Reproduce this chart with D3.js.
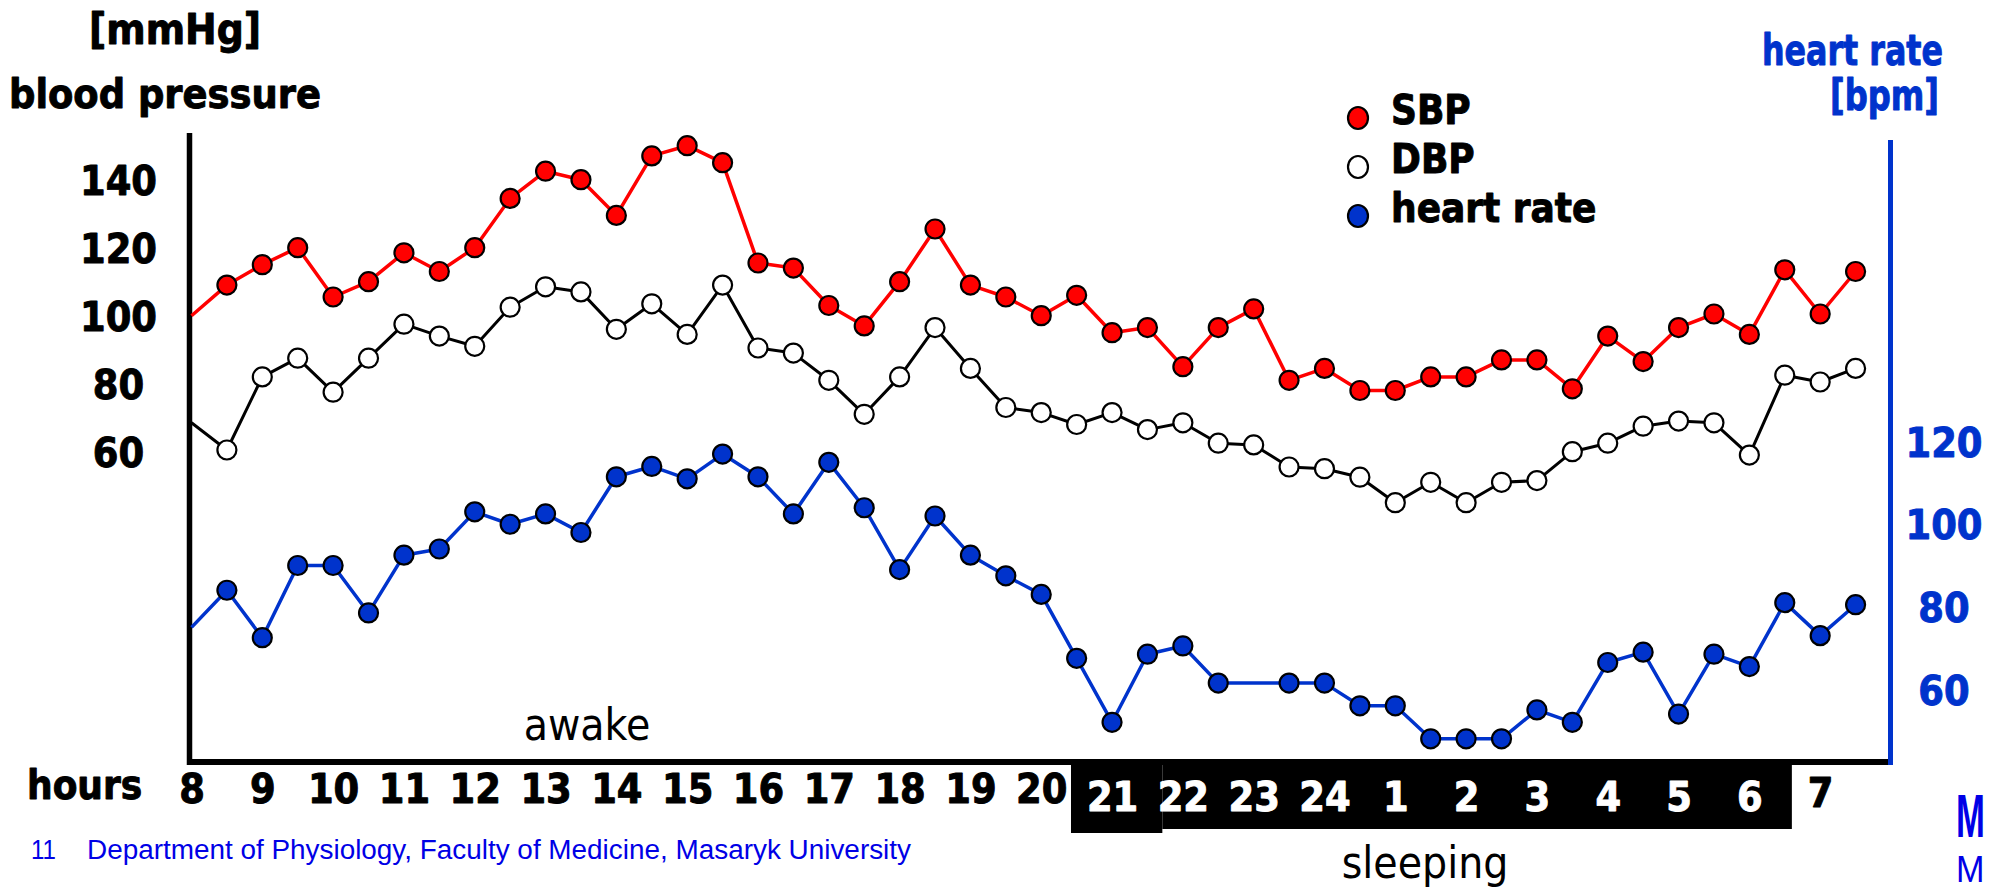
<!DOCTYPE html>
<html>
<head>
<meta charset="utf-8">
<script src="https://cdn.jsdelivr.net/npm/d3@7"></script>
<style>
  body { margin: 0; background: #fff; }
  svg text { font-family: "DejaVu Sans Condensed", "DejaVu Sans", sans-serif; }
  svg text.heavy { stroke-width: 0.9px; stroke-linejoin: round; }
</style>
</head>
<body>
<svg id="chart"></svg>
<script>
var width = 1999;
var height = 892;

// hours since 8:00, one reading every half hour (index 0 = 8:00, line start only)
var times = d3.range(0, 24, 0.5);

var hourLabels = ["8", "9", "10", "11", "12", "13", "14", "15", "16", "17", "18", "19",
                  "20", "21", "22", "23", "24", "1", "2", "3", "4", "5", "6", "7"];
var sleepHours = ["21", "22", "23", "24", "1", "2", "3", "4", "5", "6"];

var bpTicks = [60, 80, 100, 120, 140];
var hrTicks = [60, 80, 100, 120];

var sbp = [100, 109, 115, 120, 105.5, 110, 118.5, 113, 120, 134.5, 142.5, 140, 129.5,
           147, 150, 145, 115.5, 114, 103, 97, 110, 125.5, 109, 105.5, 100, 106,
           95, 96.5, 85, 96.5, 102, 81, 84.5, 78, 78, 82, 82, 87, 87, 78.5, 94,
           86.5, 96.5, 100.5, 94.5, 113.5, 100.5, 113];

var dbp = [68.5, 60.5, 82, 87.5, 77.5, 87.5, 97.5, 94, 91, 102.5, 108.5, 107, 96,
           103.5, 94.5, 109, 90.5, 89, 81, 71, 82, 96.5, 84.5, 73, 71.5, 68, 71.5,
           66.5, 68.5, 62.5, 62, 55.5, 55, 52.5, 45, 51, 45, 51, 51.5, 60, 62.5,
           67.5, 69, 68.5, 59, 82.5, 80.5, 84.5];

var heartRate = [75, 84, 72.5, 90, 90, 78.5, 92.5, 94, 103, 100, 102.5, 98, 111.5,
                 114, 111, 117, 111.5, 102.5, 115, 104, 89, 102, 92.5, 87.5, 83,
                 67.5, 52, 68.5, 70.5, 61.5, null, 61.5, 61.5, 56, 56, 48, 48, 48,
                 55, 52, 66.5, 69, 54, 68.5, 65.5, 81, 73, 80.5];

var legendItems = ["SBP", "DBP", "heart rate"];

var red = "#ff0000";
var blue = "#0033cc";
var footBlue = "#0000e6";

var xScale = d3.scaleLinear()
               .domain([0, 24])
               .range([191.5, 1891]);

var yBP = d3.scaleLinear()
            .domain([60, 140])
            .range([451.7, 179.7]);

var yHR = d3.scaleLinear()
            .domain([60, 120])
            .range([689.3, 441.7]);

var svg = d3.select("#chart")
            .attr("width", width)
            .attr("height", height);

// sleeping band behind the hour labels
svg.append("rect")
   .attr("x", xScale(12.42)).attr("y", 759)
   .attr("width", xScale(13.71) - xScale(12.42)).attr("height", 74)
   .attr("fill", "#000");
svg.append("rect")
   .attr("x", xScale(13.71)).attr("y", 759)
   .attr("width", xScale(22.6) - xScale(13.71)).attr("height", 70)
   .attr("fill", "#000");

// frame: left axis and bottom axis in black, right axis in blue
svg.append("line")
   .attr("x1", 189.5).attr("x2", 189.5)
   .attr("y1", 133).attr("y2", 765)
   .attr("stroke", "#000").attr("stroke-width", 5.5);
svg.append("line")
   .attr("x1", 187).attr("x2", 1890)
   .attr("y1", 762).attr("y2", 762)
   .attr("stroke", "#000").attr("stroke-width", 6);
svg.append("line")
   .attr("x1", 1890.5).attr("x2", 1890.5)
   .attr("y1", 140).attr("y2", 765)
   .attr("stroke", blue).attr("stroke-width", 5);

function boldText(sel, color) {
    sel.classed("heavy", true)
       .style("font-family", "'DejaVu Sans Condensed', 'DejaVu Sans', sans-serif")
       .style("font-weight", "bold")
       .attr("fill", color)
       .attr("stroke", color);
}

// left axis labels
var leftAxis = d3.axisLeft(yBP)
                 .tickValues(bpTicks)
                 .tickSize(0)
                 .tickPadding(0);
var gLeft = svg.append("g")
               .attr("transform", "translate(118.5,0)")
               .call(leftAxis);
gLeft.select(".domain").remove();
gLeft.selectAll("text")
     .attr("text-anchor", "middle")
     .attr("dy", "0.36em")
     .style("font-size", "41px")
     .call(boldText, "#000");

// right axis labels
var rightAxis = d3.axisRight(yHR)
                  .tickValues(hrTicks)
                  .tickSize(0)
                  .tickPadding(0);
var gRight = svg.append("g")
                .attr("transform", "translate(1944,0)")
                .call(rightAxis);
gRight.select(".domain").remove();
gRight.selectAll("text")
      .attr("text-anchor", "middle")
      .attr("dy", "0.36em")
      .style("font-size", "41px")
      .call(boldText, blue);

// hour labels
var bottomAxis = d3.axisBottom(xScale)
                   .tickValues(d3.range(0, 24))
                   .tickFormat(i => hourLabels[i])
                   .tickSize(0)
                   .tickPadding(0);
var gBottom = svg.append("g")
                 .attr("transform", "translate(0,765)")
                 .call(bottomAxis);
gBottom.select(".domain").remove();
gBottom.selectAll("text")
       .attr("dy", null)
       .attr("y", function (d) {
           var lab = hourLabels[d];
           if (sleepHours.indexOf(lab) >= 0) return 46;
           if (lab === "7") return 42;
           return 38;
       })
       .style("font-size", "41px")
       .each(function (d) {
           d3.select(this).call(boldText, sleepHours.indexOf(hourLabels[d]) >= 0 ? "#fff" : "#000");
       });

// series
var series = [
    { name: "SBP", values: sbp, scale: yBP, line: red, fill: red, width: 3.5 },
    { name: "DBP", values: dbp, scale: yBP, line: "#000", fill: "#fff", width: 3 },
    { name: "heart rate", values: heartRate, scale: yHR, line: blue, fill: blue, width: 3.5 }
];

series.forEach(function (s) {
    var pts = times.map((t, i) => ({ t: t, v: s.values[i], i: i }))
                   .filter(p => p.v !== null);

    var line = d3.line()
                 .x(p => xScale(p.t))
                 .y(p => s.scale(p.v));

    svg.append("path")
       .datum(pts)
       .attr("d", line)
       .attr("fill", "none")
       .attr("stroke", s.line)
       .attr("stroke-width", s.width)
       .attr("stroke-linejoin", "round");

    svg.append("g")
       .selectAll("circle")
       .data(pts.filter(p => p.i > 0))
       .enter()
       .append("circle")
         .attr("cx", p => xScale(p.t))
         .attr("cy", p => s.scale(p.v))
         .attr("r", 9.5)
         .attr("fill", s.fill)
         .attr("stroke", "#000")
         .attr("stroke-width", 2.2);
});

// legend
var legend = svg.append("g")
                .selectAll("g")
                .data(series)
                .enter()
                .append("g")
                  .attr("transform", (d, i) => "translate(1358," + (118 + i * 49) + ")");
legend.append("ellipse")
      .attr("rx", 10).attr("ry", 11)
      .attr("fill", d => d.fill)
      .attr("stroke", "#000")
      .attr("stroke-width", 2.2);
legend.append("text")
      .attr("x", 33).attr("y", 5.5)
      .attr("font-size", 40)
      .text((d, i) => legendItems[i])
      .call(boldText, "#000");

// titles
svg.append("text")
   .attr("x", 175).attr("y", 44)
   .attr("text-anchor", "middle")
   .attr("font-size", 42)
   .text("[mmHg]")
   .call(boldText, "#000");
svg.append("text")
   .attr("x", 165).attr("y", 108)
   .attr("text-anchor", "middle")
   .attr("font-size", 41)
   .text("blood pressure")
   .call(boldText, "#000");
svg.append("text")
   .attr("x", 1762).attr("y", 65)
   .attr("font-size", 42)
   .attr("textLength", 181).attr("lengthAdjust", "spacingAndGlyphs")
   .text("heart rate")
   .call(boldText, blue);
svg.append("text")
   .attr("x", 1830).attr("y", 110)
   .attr("font-size", 42)
   .attr("textLength", 109).attr("lengthAdjust", "spacingAndGlyphs")
   .text("[bpm]")
   .call(boldText, blue);
svg.append("text")
   .attr("x", 27).attr("y", 799)
   .attr("font-size", 40)
   .text("hours")
   .call(boldText, "#000");

svg.append("text")
   .attr("x", 587).attr("y", 740)
   .attr("text-anchor", "middle")
   .attr("font-size", 44)
   .text("awake");
svg.append("text")
   .attr("x", 1425).attr("y", 878)
   .attr("text-anchor", "middle")
   .attr("font-size", 44)
   .text("sleeping");

// footer
svg.append("text")
   .attr("x", 31).attr("y", 859)
   .style("font-family", "'Liberation Sans', Arial, sans-serif")
   .attr("font-size", 27)
   .attr("fill", footBlue)
   .attr("textLength", 25).attr("lengthAdjust", "spacingAndGlyphs")
   .text("11");
svg.append("text")
   .attr("x", 87).attr("y", 859)
   .style("font-family", "'Liberation Sans', Arial, sans-serif")
   .attr("font-size", 27)
   .attr("fill", footBlue)
   .attr("textLength", 824).attr("lengthAdjust", "spacingAndGlyphs")
   .text("Department of Physiology, Faculty of Medicine, Masaryk University");

// logo letters at the bottom right, squeezed sideways
svg.append("text")
   .attr("transform", "translate(1956,837) scale(0.56,1)")
   .style("font-family", "'Liberation Sans', Arial, sans-serif")
   .attr("font-weight", "bold").attr("font-size", 62)
   .attr("fill", footBlue)
   .text("M");
svg.append("text")
   .attr("transform", "translate(1956,882) scale(0.95,1)")
   .style("font-family", "'Liberation Sans', Arial, sans-serif")
   .attr("font-size", 36)
   .attr("fill", footBlue)
   .text("M");
</script>
</body>
</html>
